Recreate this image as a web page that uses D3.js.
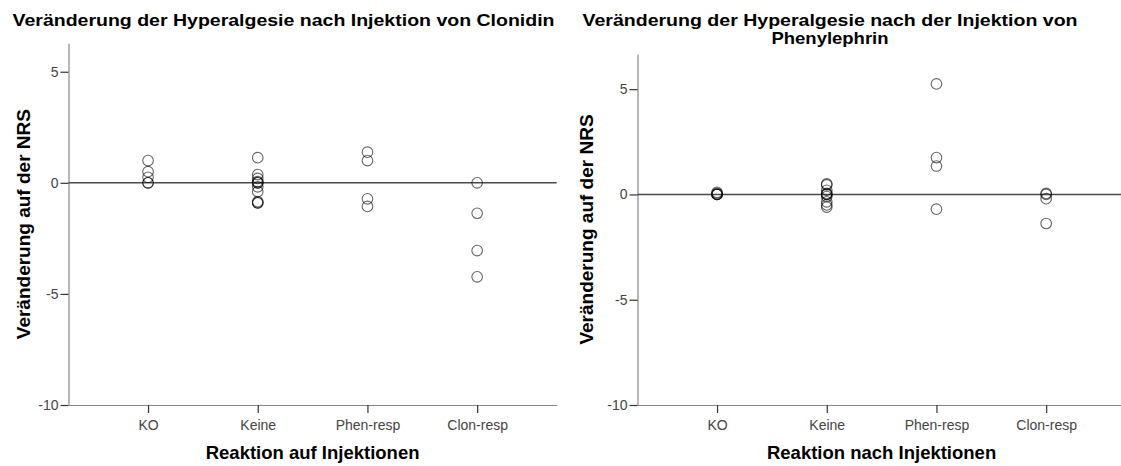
<!DOCTYPE html>
<html>
<head>
<meta charset="utf-8">
<script src="https://cdn.jsdelivr.net/npm/d3@7"></script>
<style>
  html, body { margin: 0; padding: 0; background: #fff; }
  svg { display: block; font-family: "Liberation Sans", Arial, sans-serif; }
</style>
</head>
<body>
<svg id="chart" width="1121" height="466"></svg>
<script>
// Response groups on the x axis
const categories = ["KO", "Keine", "Phen-resp", "Clon-resp"];
const yTicks = [-10, -5, 0, 5];

// Change on the NRS after clonidin injection, per group
const clonKO       = [1.0, 0.5, 0.25, 0, 0];
const clonKeine    = [1.13, 0.37, 0.2, 0.05, 0, 0, -0.18, -0.4, -0.85, -0.9, -0.9];
const clonPhenResp = [1.38, 1.0, -0.72, -1.06];
const clonClonResp = [0, -1.37, -3.05, -4.23];

// Change on the NRS after phenylephrin injection, per group
const phenKO       = [0.1, 0.05, 0, 0, 0];
const phenKeine    = [0.5, 0.45, 0.2, 0.05, 0, 0, -0.1, -0.35, -0.5, -0.6];
const phenPhenResp = [5.25, 1.75, 1.35, -0.7];
const phenClonResp = [0.05, 0, -0.2, -1.38];

const svg = d3.select("#chart");

function drawPanel(cfg) {
  const g = svg.append("g");
  const x = d3.scalePoint().domain(categories).range([cfg.left, cfg.right]).padding(0.725);
  const y = d3.scaleLinear().domain(cfg.yDomain).range([cfg.bottom, cfg.top]);

  // y axis
  const ya = g.append("g")
    .attr("transform", `translate(${cfg.left},0)`)
    .call(d3.axisLeft(y).tickValues(yTicks).tickSize(8).tickSizeOuter(0).tickPadding(2).tickFormat(d3.format("d")));
  ya.select(".domain").attr("stroke", "#888").attr("stroke-width", 1.2);
  ya.selectAll(".tick line").attr("stroke", "#333").attr("stroke-width", 1.2);
  ya.selectAll(".tick text").attr("fill", "#444").attr("font-size", 14)
    .text(d => d < 0 ? "-" + Math.abs(d) : d);

  // x axis
  const xa = g.append("g")
    .attr("transform", `translate(0,${cfg.bottom})`)
    .call(d3.axisBottom(x).tickSize(8).tickSizeOuter(0).tickPadding(7));
  xa.select(".domain").attr("stroke", "#888").attr("stroke-width", 1.2);
  xa.selectAll(".tick line").attr("stroke", "#333").attr("stroke-width", 1.2);
  xa.selectAll(".tick text").attr("fill", "#444").attr("font-size", 14);

  // reference line at zero
  g.append("line")
    .attr("x1", cfg.left).attr("x2", cfg.right)
    .attr("y1", y(0)).attr("y2", y(0))
    .attr("stroke", "#4a4a4a").attr("stroke-width", 1.5);

  // points
  cfg.groups.forEach((vals, i) => {
    g.selectAll(null).data(vals).enter().append("circle")
      .attr("cx", x(categories[i]))
      .attr("cy", d => y(d))
      .attr("r", 5.3)
      .attr("fill", "none")
      .attr("stroke", "#000")
      .attr("stroke-opacity", 0.6)
      .attr("stroke-width", 1.1);
  });

  // chart title, one text per line
  cfg.title.forEach((line, i) => {
    g.append("text")
      .attr("x", cfg.titleX).attr("y", 25.5 + i * 18)
      .attr("text-anchor", "middle")
      .attr("font-size", 17).attr("font-weight", "bold").attr("fill", "#000")
      .attr("textLength", cfg.titleLengths[i]).attr("lengthAdjust", "spacingAndGlyphs")
      .text(line);
  });

  // axis titles
  g.append("text")
    .attr("x", (cfg.left + cfg.right) / 2).attr("y", 459)
    .attr("text-anchor", "middle")
    .attr("font-size", 18.5).attr("font-weight", "bold").attr("fill", "#000")
    .text(cfg.xTitle);

  g.append("text")
    .attr("transform", `translate(${cfg.yTitleX},${(cfg.top + cfg.bottom) / 2}) rotate(-90)`)
    .attr("text-anchor", "middle")
    .attr("font-size", 19).attr("font-weight", "bold").attr("fill", "#000")
    .text("Veränderung auf der NRS");
}

drawPanel({
  left: 68.5, right: 556.7, top: 43.3, bottom: 405,
  yDomain: [-10, 6.28],
  groups: [clonKO, clonKeine, clonPhenResp, clonClonResp],
  title: ["Veränderung der Hyperalgesie nach Injektion von Clonidin"],
  titleLengths: [542],
  titleX: 283.5,
  xTitle: "Reaktion auf Injektionen",
  yTitleX: 30
});

drawPanel({
  left: 637.5, right: 1125.7, top: 54, bottom: 405,
  yDomain: [-10, 6.67],
  groups: [phenKO, phenKeine, phenPhenResp, phenClonResp],
  title: ["Veränderung der Hyperalgesie nach der Injektion von", "Phenylephrin"],
  titleLengths: [495, 117],
  titleX: 830,
  xTitle: "Reaktion nach Injektionen",
  yTitleX: 593
});
</script>
</body>
</html>
